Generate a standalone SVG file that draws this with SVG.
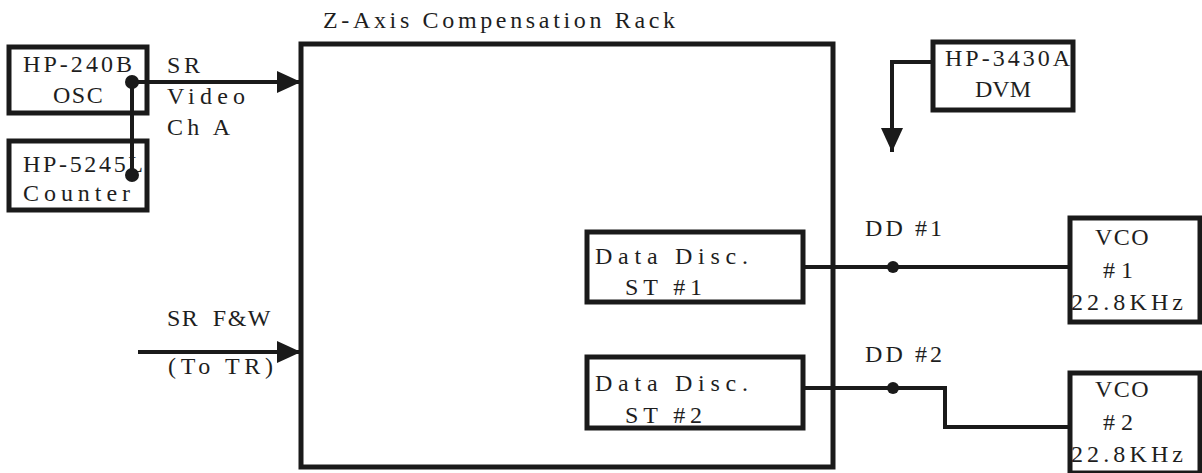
<svg xmlns="http://www.w3.org/2000/svg" width="1202" height="473" viewBox="0 0 1202 473">
<style>
.t{font-family:"Liberation Serif","Times New Roman",serif;font-size:24px;fill:#1e1e1e}
.box{fill:none;stroke:#1a1a1a;stroke-width:5}
.w{fill:none;stroke:#1a1a1a;stroke-width:4;stroke-linejoin:miter}
.dot{fill:#1a1a1a}
</style>
<defs>
<marker id="ah" markerUnits="userSpaceOnUse" markerWidth="26" markerHeight="22" refX="24" refY="11" orient="auto">
<path d="M0,0 L24,11 L0,22 Z" fill="#1a1a1a"/>
</marker>
</defs>
<rect width="1202" height="473" fill="#fff"/>

<g id="rack">
<rect class="box" x="301" y="44" width="532" height="423"/>
<text class="t" x="323" y="28" textLength="352" lengthAdjust="spacing">Z-Axis Compensation Rack</text>
</g>

<g id="hp240b">
<rect class="box" x="9" y="47" width="138" height="66"/>
<text class="t" x="23" y="72" textLength="109" lengthAdjust="spacing">HP-240B</text>
<text class="t" x="53" y="103" letter-spacing="1.5">OSC</text>
</g>

<g id="hp5245l">
<rect class="box" x="9" y="141" width="138" height="69"/>
<text class="t" x="23" y="172" textLength="120" lengthAdjust="spacing">HP-5245L</text>
<text class="t" x="23" y="201" textLength="107" lengthAdjust="spacing">Counter</text>
</g>

<g id="hp3430a">
<rect class="box" x="933" y="42" width="140" height="68"/>
<text class="t" x="945" y="66" textLength="125" lengthAdjust="spacing">HP-3430A</text>
<text class="t" x="975" y="97">DVM</text>
</g>

<g id="dd1">
<rect class="box" x="587" y="232" width="216" height="70"/>
<text class="t" x="595" y="264" textLength="153" lengthAdjust="spacing">Data Disc.</text>
<text class="t" x="625" y="295" textLength="77" lengthAdjust="spacing">ST #1</text>
</g>

<g id="dd2">
<rect class="box" x="587" y="357" width="216" height="71"/>
<text class="t" x="595" y="391" textLength="153" lengthAdjust="spacing">Data Disc.</text>
<text class="t" x="625" y="423" textLength="77" lengthAdjust="spacing">ST #2</text>
</g>

<g id="vco1">
<rect class="box" x="1070" y="218" width="130" height="104"/>
<text class="t" x="1095" y="245" letter-spacing="1.5">VCO</text>
<text class="t" x="1103" y="278" textLength="30" lengthAdjust="spacing">#1</text>
<text class="t" x="1071" y="310" textLength="112" lengthAdjust="spacing">22.8KHz</text>
</g>

<g id="vco2">
<rect class="box" x="1070" y="373" width="130" height="100"/>
<text class="t" x="1095" y="397" letter-spacing="1.5">VCO</text>
<text class="t" x="1103" y="430" textLength="30" lengthAdjust="spacing">#2</text>
<text class="t" x="1071" y="462" textLength="112" lengthAdjust="spacing">22.8KHz</text>
</g>

<g id="connectors">
<path class="w" d="M132,82 L301,82" marker-end="url(#ah)"/>
<path class="w" d="M132,82 L132,175"/>
<circle class="dot" cx="132" cy="82" r="7"/>
<circle class="dot" cx="132" cy="175" r="7"/>
<path class="w" d="M138,352 L301,352" marker-end="url(#ah)"/>
<path class="w" d="M933,62 L892,62 L892,152" marker-end="url(#ah)"/>
<path class="w" d="M803,267 L1070,267"/>
<circle class="dot" cx="893" cy="267" r="6"/>
<path class="w" d="M803,388 L945,388 L945,427 L1070,427"/>
<circle class="dot" cx="893" cy="388" r="6"/>
</g>

<g id="labels">
<text class="t" x="167" y="73" textLength="33" lengthAdjust="spacing">SR</text>
<text class="t" x="167" y="104" textLength="78" lengthAdjust="spacing">Video</text>
<text class="t" x="167" y="135" textLength="63" lengthAdjust="spacing">Ch A</text>
<text class="t" x="167" y="326" letter-spacing="1.5" word-spacing="6">SR F&amp;W</text>
<text class="t" x="168" y="374" textLength="105" lengthAdjust="spacing">(To TR)</text>
<text class="t" x="865" y="236" textLength="77" lengthAdjust="spacing">DD #1</text>
<text class="t" x="865" y="362" textLength="77" lengthAdjust="spacing">DD #2</text>
</g>
</svg>
